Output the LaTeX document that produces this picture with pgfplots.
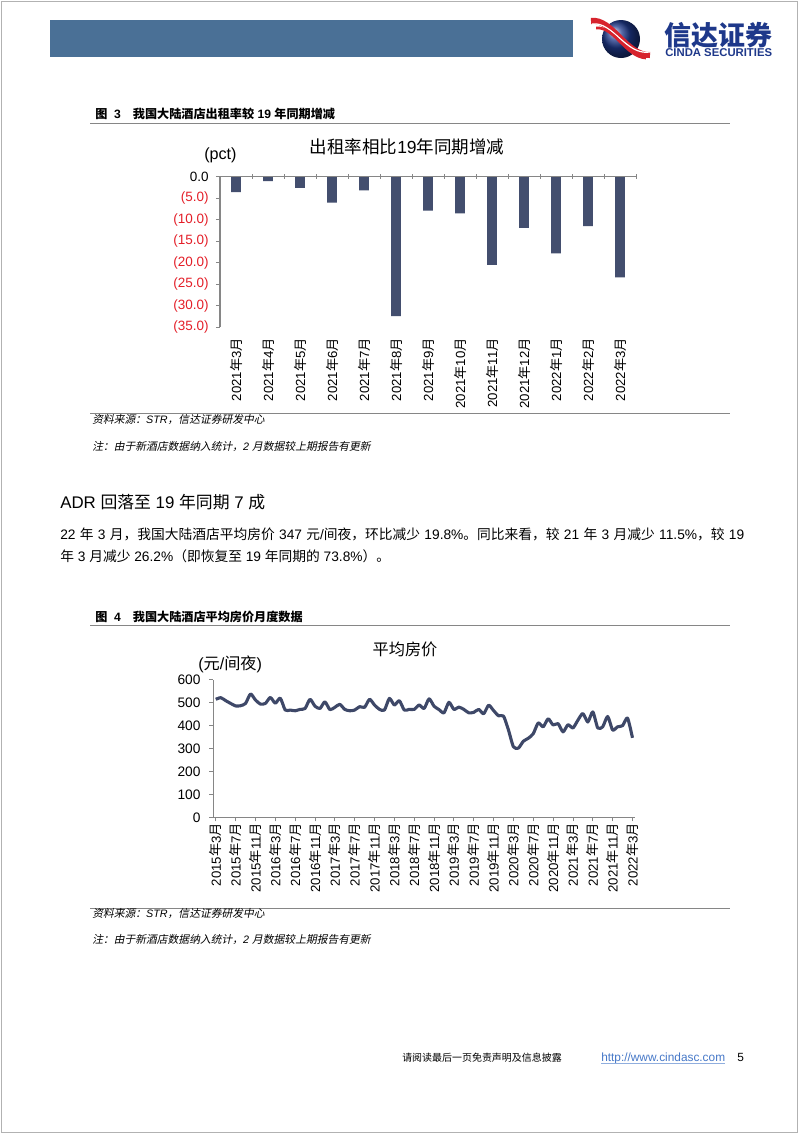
\documentclass[border=0pt]{standalone}
\usepackage{fontspec}
\setmainfont{Liberation Sans}
\newfontfamily\cjk{Noto Sans CJK SC}
\newfontfamily\cjkit{Noto Sans CJK SC}[FakeSlant=0.2]
\usepackage{pgfplots}
\pgfplotsset{compat=1.18}

% automatic switch to CJK font for CJK characters
\XeTeXinterchartokenstate=1
\newXeTeXintercharclass\CJKc
\newcount\cjkcnt
\cjkcnt="3000
\loop
  \XeTeXcharclass\cjkcnt=\CJKc
  \ifnum\cjkcnt<"9FFF \advance\cjkcnt by 1
\repeat
\cjkcnt="FF00
\loop
  \XeTeXcharclass\cjkcnt=\CJKc
  \ifnum\cjkcnt<"FFEF \advance\cjkcnt by 1
\repeat
\def\cjkfont{\cjk}
\def\latinfont{\rmfamily}
\XeTeXinterchartoks 0 \CJKc = {\cjkfont}
\XeTeXinterchartoks 4095 \CJKc = {\cjkfont}
\XeTeXinterchartoks \CJKc 0 = {\latinfont}
\XeTeXinterchartoks \CJKc 4095 = {\latinfont}
\newcommand\slanted{\def\cjkfont{\cjkit}\def\latinfont{\rmfamily\itshape}\itshape}

\definecolor{hdrblue}{RGB}{74,112,150}
\definecolor{barc}{RGB}{67,78,110}
\definecolor{linec}{RGB}{62,72,104}
\definecolor{axgray}{RGB}{134,134,134}
\definecolor{cred}{RGB}{228,30,40}
\definecolor{navy}{RGB}{30,56,138}
\definecolor{logored}{RGB}{215,35,45}
\definecolor{urlblue}{RGB}{70,120,200}

\begin{document}
\begin{tikzpicture}[x=0.7423pt,y=0.7423pt]
\path[use as bounding box] (0,0) rectangle (802,-1133);
\fill[white] (0,0) rectangle (802,-1133);
\draw[gray!60, line width=0.6pt] (1,-1) rectangle (797,-1132);
\coordinate (A1) at (220,-176.7);
\coordinate (A2) at (213.3,-679.8);

% ---------- header ----------
\fill[hdrblue] (50,-20) rectangle (573,-57);
\shade[ball color=navy] (621,-39) circle (19);
\draw[logored, line width=4.5pt] (591,-21) .. controls (612,-18) and (626,-56) .. (650,-55);
\draw[white, line width=0.9pt] (592,-24) .. controls (613,-21) and (626,-56) .. (650,-52);
\draw[logored, line width=2pt] (596,-28) .. controls (614,-26) and (626,-57) .. (646,-58);
\node[anchor=base west, inner sep=0, text=navy] at (664,-45) {\fontsize{20}{22}\selectfont\bfseries 信达证券};
\node[anchor=base west, inner sep=0, text=navy] at (665,-56) {\fontsize{8.4}{9}\selectfont\bfseries CINDA SECURITIES};

% ---------- figure 3 caption ----------
\node[anchor=base west, inner sep=0] at (95,-118) {\fontsize{9}{11}\selectfont\bfseries 图\hspace{5pt}3\hspace{9pt}我国大陆酒店出租率较 19 年同期增减};
\draw[axgray, line width=0.7pt] (90,-123) -- (730,-123);

\node[inner sep=0] at (407,-147) {\fontsize{13}{15}\selectfont 出租率相比19年同期增减};
\node[anchor=base west, inner sep=0] at (204,-159) {\fontsize{12}{14}\selectfont (pct)};

\begin{axis}[
  at={(A1)}, anchor=north west,
  scale only axis, width=308.8pt, height=111.8pt,
  xmin=-0.5, xmax=12.5, ymin=-35, ymax=0,
  axis lines*=left,
  x axis line style={draw=none},
  y axis line style={axgray, line width=0.75pt},
  tick align=outside, major tick length=3pt,
  ytick={-35,-30,-25,-20,-15,-10,-5,0},
  yticklabels={{\color{cred}(35.0)},{\color{cred}(30.0)},{\color{cred}(25.0)},{\color{cred}(20.0)},{\color{cred}(15.0)},{\color{cred}(10.0)},{\color{cred}(5.0)},0.0},
  ytick style={axgray, line width=0.6pt},
  yticklabel style={font=\fontsize{10}{12}\selectfont},
  yticklabel shift=2pt,
  xtick={0,1,2,3,4,5,6,7,8,9,10,11,12},
  xticklabels={2021年3月,2021年4月,2021年5月,2021年6月,2021年7月,2021年8月,2021年9月,2021年10月,2021年11月,2021年12月,2022年1月,2022年2月,2022年3月},
  xtick style={draw=none},
  xticklabel style={rotate=90, anchor=east, font=\fontsize{9.8}{11}\selectfont},
  xticklabel shift=1.5pt,
  clip=false,
]
\addplot[ybar, bar width=7.4pt, bar shift=0pt, fill=barc, draw=none] coordinates {
(0,-3.6) (1,-1.0) (2,-2.6) (3,-6.0) (4,-3.2) (5,-32.4) (6,-7.9) (7,-8.5) (8,-20.5) (9,-11.9) (10,-17.8) (11,-11.5) (12,-23.4)
};
\draw[axgray, line width=0.75pt] (axis cs:-0.5,0) -- (axis cs:12.5,0);
\pgfplotsinvokeforeach{0.5,1.5,2.5,3.5,4.5,5.5,6.5,7.5,8.5,9.5,10.5,11.5,12.5}{
  \draw[axgray, line width=0.6pt] ([yshift=2pt]axis cs:#1,0) -- ([yshift=-2pt]axis cs:#1,0);
}
\end{axis}

\draw[axgray, line width=0.7pt] (90,-413.5) -- (730,-413.5);
\node[anchor=base west, inner sep=0] at (92,-423) {\fontsize{8}{10}\selectfont\slanted 资料来源：STR，信达证券研发中心};
\node[anchor=base west, inner sep=0] at (92,-450) {\fontsize{8}{10}\selectfont\slanted 注：由于新酒店数据纳入统计，2 月数据较上期报告有更新};

% ---------- body text ----------
\node[anchor=base west, inner sep=0] at (60,-508) {\fontsize{12.5}{14}\selectfont ADR 回落至 19 年同期 7 成};
\node[anchor=base west, inner sep=0] at (60,-539) {\fontsize{10.2}{12}\selectfont\makebox[507.7pt][s]{22 年 3 月，我国大陆酒店平均房价 347 元/间夜，环比减少 19.8\%。同比来看，较 21 年 3 月减少 11.5\%，较 19}};
\node[anchor=base west, inner sep=0] at (60,-561) {\fontsize{10.2}{12}\selectfont 年 3 月减少 26.2\%（即恢复至 19 年同期的 73.8\%）。};

% ---------- figure 4 caption ----------
\node[anchor=base west, inner sep=0] at (95,-621) {\fontsize{9}{11}\selectfont\bfseries 图\hspace{5pt}4\hspace{9pt}我国大陆酒店平均房价月度数据};
\draw[axgray, line width=0.7pt] (90,-625) -- (730,-625);

\node[inner sep=0] at (405,-649) {\fontsize{12}{14}\selectfont 平均房价};
\node[anchor=base west, inner sep=0] at (198,-669) {\fontsize{12}{14}\selectfont (元/间夜)};

\begin{axis}[
  at={(A2)}, anchor=north west,
  scale only axis, width=313pt, height=102.1pt,
  xmin=-0.5, xmax=84.5, ymin=0, ymax=600,
  axis lines*=left,
  axis line style={axgray, line width=0.75pt},
  tick align=outside, major tick length=3pt,
  tick style={axgray, line width=0.6pt},
  ytick={0,100,200,300,400,500,600},
  yticklabels={0,100,200,300,400,500,600},
  yticklabel style={font=\fontsize{10.2}{12}\selectfont},
  yticklabel shift=3pt,
  xtick={0,4,8,12,16,20,24,28,32,36,40,44,48,52,56,60,64,68,72,76,80,84},
  xticklabels={2015年3月,2015年7月,2015年11月,2016年3月,2016年7月,2016年11月,2017年3月,2017年7月,2017年11月,2018年3月,2018年7月,2018年11月,2019年3月,2019年7月,2019年11月,2020年3月,2020年7月,2020年11月,2021年3月,2021年7月,2021年11月,2022年3月},
  xticklabel style={rotate=90, anchor=east, font=\fontsize{9.8}{11}\selectfont, inner sep=1pt},
  clip=false,
]
\addplot[linec, line width=2.3pt, smooth, tension=0.4, line join=round] coordinates {
(0,515) (1,522) (2,509) (3,497) (4,486) (5,487) (6,497) (7,538) (8,512) (9,494)
(10,497) (11,523) (12,498) (13,520) (14,468) (15,468) (16,465) (17,471) (18,475) (19,515)
(20,485) (21,475) (22,504) (23,470) (24,480) (25,493) (26,471) (27,465) (28,468) (29,483)
(30,480) (31,515) (32,490) (33,471) (34,468) (35,519) (36,490) (37,509) (38,468) (39,471)
(40,471) (41,490) (42,475) (43,517) (44,485) (45,470) (46,456) (47,502) (48,471) (49,481)
(50,471) (51,456) (52,458) (53,471) (54,452) (55,489) (56,466) (57,443) (58,442) (59,381)
(60,308) (61,302) (62,332) (63,345) (64,365) (65,412) (66,395) (67,430) (68,403) (69,409)
(70,373) (71,404) (72,390) (73,424) (74,453) (75,416) (76,460) (77,390) (78,395) (79,440)
(80,381) (81,395) (82,400) (83,433) (84,347)
};
\end{axis}

\draw[axgray, line width=0.7pt] (90,-908) -- (730,-908);
\node[anchor=base west, inner sep=0] at (92,-917) {\fontsize{8}{10}\selectfont\slanted 资料来源：STR，信达证券研发中心};
\node[anchor=base west, inner sep=0] at (92,-943) {\fontsize{8}{10}\selectfont\slanted 注：由于新酒店数据纳入统计，2 月数据较上期报告有更新};

% ---------- footer ----------
\node[anchor=base west, inner sep=0] at (402,-1061) {\fontsize{7.4}{9}\selectfont 请阅读最后一页免责声明及信息披露};
\node[anchor=base west, inner sep=0, text=urlblue] at (601,-1061) {\fontsize{8.8}{10}\selectfont http://www.cindasc.com};
\draw[urlblue!60, line width=0.4pt] (601,-1063.5) -- (725,-1063.5);
\node[anchor=base west, inner sep=0] at (737,-1061) {\fontsize{8.8}{10}\selectfont 5};
\end{tikzpicture}
\end{document}
